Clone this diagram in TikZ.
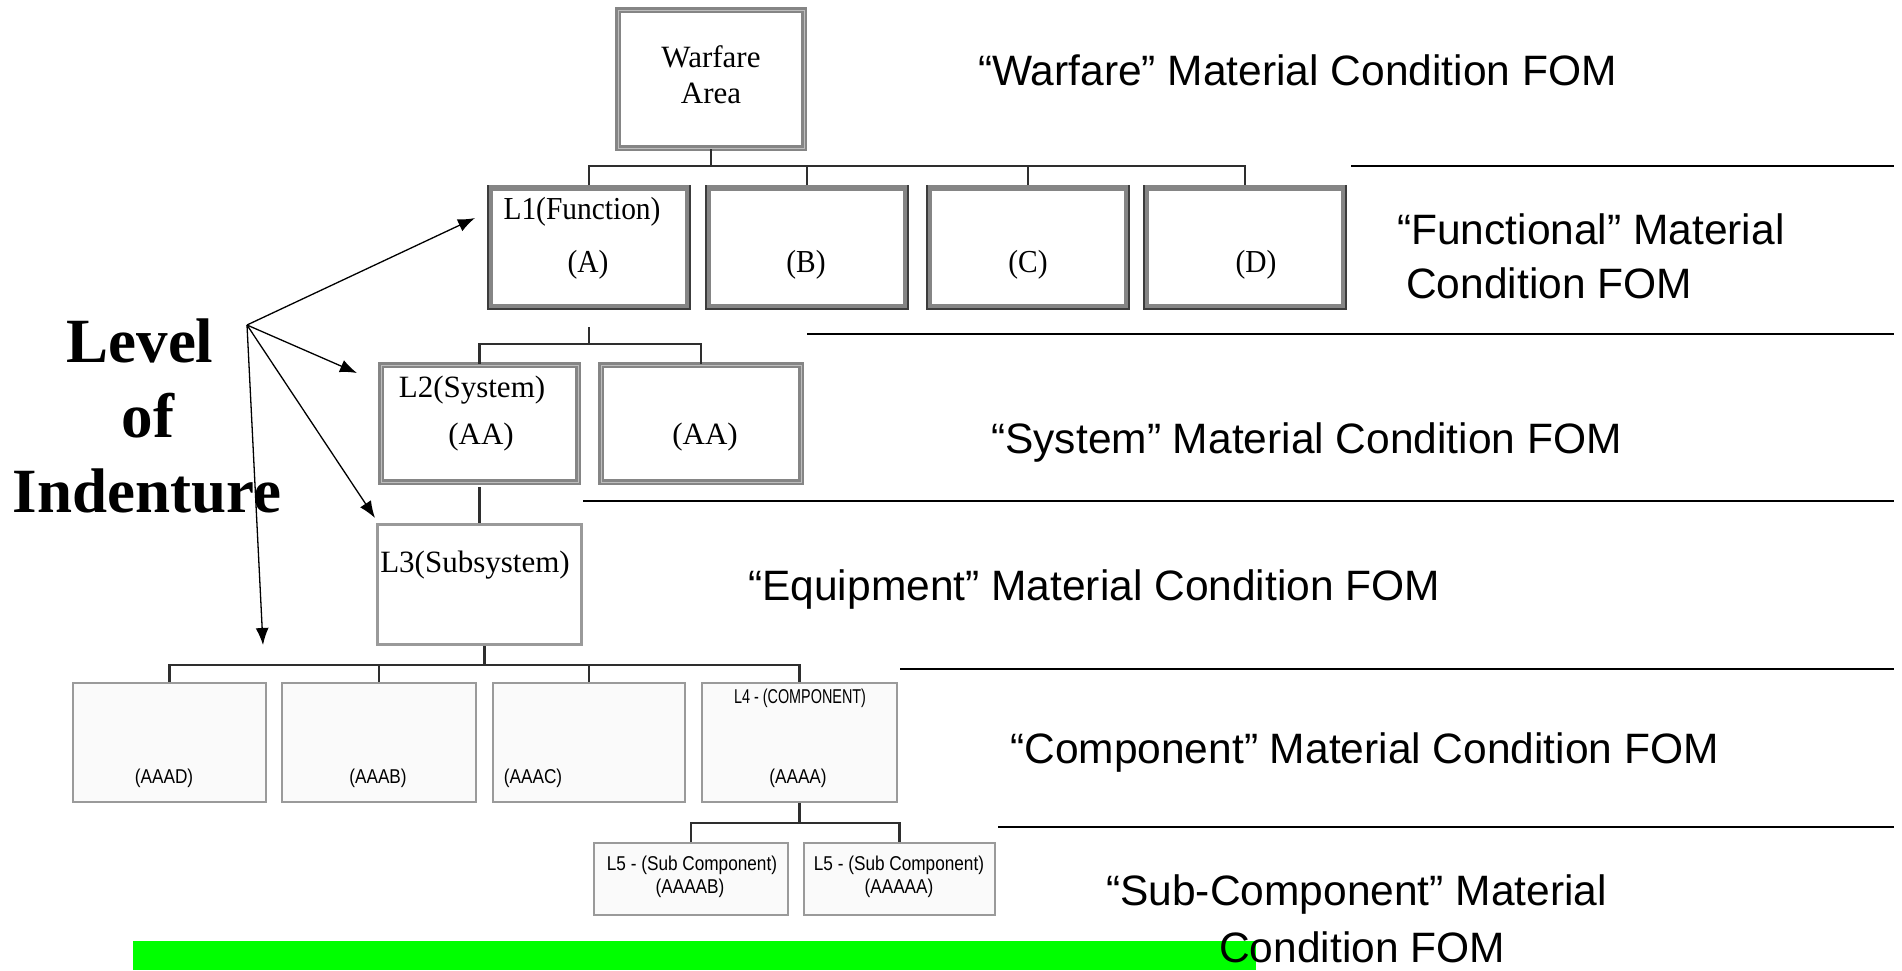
\documentclass[tikz,border=0pt]{standalone}
\usepackage{fontspec}
\setmainfont{Liberation Serif}
\newfontfamily\arialf{Liberation Sans}
\newfontfamily\smallsans[FakeStretch=0.86]{Liberation Sans}
\newfontfamily\smallsanscond[FakeStretch=0.72]{Liberation Sans}
\newfontfamily\serifcond[FakeStretch=0.92]{Liberation Serif}
\usetikzlibrary{arrows.meta}
\definecolor{framegray}{HTML}{858585}
\definecolor{framelight}{HTML}{BEBEBE}
\definecolor{framedark}{HTML}{3C3C3C}
\definecolor{thingray}{HTML}{9A9A9A}
\definecolor{linkgray}{HTML}{2E2E2E}
\definecolor{greenbar}{HTML}{00FF00}
\begin{document}
\begin{tikzpicture}[x=1pt,y=-1pt,
  basebox/.style={rectangle, inner sep=0pt, fill=white},
  boxW/.style={basebox, draw=framegray, double=framelight, double distance=0.9pt, line width=2.55pt},
  boxA/.style={basebox, draw=framegray, line width=6pt},
  boxB/.style={boxW},
  boxC/.style={basebox, draw=thingray, line width=3.5pt},
  boxE/.style={basebox, draw=thingray, line width=2pt, fill=white!98!black},
  txt/.style={inner sep=0pt},
  tnr/.style={txt, font=\fontsize{31}{36}\selectfont},
  tnrL1/.style={txt, font=\serifcond\fontsize{32}{36}\selectfont},
  sml/.style={txt, font=\smallsans\fontsize{20}{22}\selectfont},
  smlc/.style={txt, font=\smallsanscond\fontsize{20}{22}\selectfont},
  fom/.style={txt, anchor=base west, font=\arialf\fontsize{42.5}{48}\selectfont},
  bigword/.style={txt, anchor=base, font=\bfseries\fontsize{63}{75}\selectfont},
  link/.style={draw=linkgray, line width=2.4pt},
  sepline/.style={draw=black, line width=2.5pt},
  pointer/.style={draw=black, line width=1.3pt, -{Latex[length=17pt,width=13pt]}}
]
\fill[white] (0,0) rectangle (1902,970);
\useasboundingbox (0,0) rectangle (1902,970);

% ---------- Warfare area ----------
\node[boxW, minimum width=186pt, minimum height=138pt] (W) at (711,79) {};
\node[tnr, align=center] (Wt) at (711,75) {Warfare\\Area};

% ---------- L1 ----------
\foreach \n/\cx in {A/589,B/807,C/1028,D/1245}
  \node[boxA, minimum width=198pt, minimum height=119pt] (\n) at (\cx,247.5) {};
\foreach \n in {A,B,C,D}
  \draw[framedark, line width=2pt] ([xshift=1pt]\n.north west) -- ([xshift=1pt,yshift=1pt]\n.south west)
     -- ([xshift=-1pt,yshift=1pt]\n.south east) -- ([xshift=-1pt]\n.north east);
\node[tnrL1] (At1) at (582,212) {L1(Function)};
\node[tnrL1] (At2) at (588,265) {(A)};
\node[tnrL1] (Bt) at (806,265) {(B)};
\node[tnrL1] (Ct) at (1028,265) {(C)};
\node[tnrL1] (Dt) at (1256,265) {(D)};

\coordinate (bus1) at (0,166);
\draw[link] (W.south) -- (W.south |- bus1);
\draw[link] (A.north) -- (A.north |- bus1) -- (D.north |- bus1) -- (D.north);
\draw[link] (B.north) -- (B.north |- bus1);
\draw[link] (C.north) -- (C.north |- bus1);

% ---------- L2 ----------
\node[boxB, minimum width=197pt, minimum height=117pt] (S1) at (479.5,423.5) {};
\node[boxB, minimum width=200pt, minimum height=117pt] (S2) at (701,423.5) {};
\node[tnr] (S1t1) at (472,390) {L2(System)};
\node[tnr] (S1t2) at (481,437) {(AA)};
\node[tnr] (S2t) at (705,437) {(AA)};
\coordinate (bus2) at (0,344);
\draw[link, shorten <=17pt] (A.south) -- (A.south |- bus2);
\draw[link] (S1.north) -- (S1.north |- bus2) -- (S2.north |- bus2) -- (S2.north);

% ---------- L3 ----------
\node[boxC, minimum width=204pt, minimum height=120pt] (T) at (479.5,584.5) {};
\node[tnr] (Tt) at (475,565) {L3(Subsystem)};
\draw[link, shorten <=4pt] (S1.south) -- (T.north);

% ---------- L4 ----------
\foreach \n/\cx/\w in {P/169.5/193, Q/379/194, R/589/192, U/799.5/195}
  \node[boxE, minimum width=\w pt, minimum height=119pt] (\n) at (\cx,742.5) {};
\node[sml] (Pt) at (164,778) {(AAAD)};
\node[sml] (Qt) at (378,778) {(AAAB)};
\node[sml] (Rt) at (533,778) {(AAAC)};
\node[sml] (Ut2) at (798,778) {(AAAA)};
\node[smlc] (Ut1) at (800,698) {L4 - (COMPONENT)};
\coordinate (Tb) at ([xshift=5pt]T.south);
\coordinate (bus4) at (0,665);
\draw[link] (Tb) -- (Tb |- bus4);
\draw[link] (P.north) -- (P.north |- bus4) -- (U.north |- bus4) -- (U.north);
\draw[link] (Q.north) -- (Q.north |- bus4);
\draw[link] (R.north) -- (R.north |- bus4);

% ---------- L5 ----------
\node[boxE, minimum width=194pt, minimum height=72pt] (V1) at (691,879) {};
\node[boxE, minimum width=191pt, minimum height=72pt] (V2) at (899.5,879) {};
\node[sml] (V1t1) at (692,865) {L5 - (Sub Component)};
\node[sml] (V1t2) at (690,888) {(AAAAB)};
\node[sml] (V2t1) at (899,865) {L5 - (Sub Component)};
\node[sml] (V2t2) at (899,888) {(AAAAA)};
\coordinate (bus5) at (0,823);
\draw[link] (U.south) -- (U.south |- bus5);
\draw[link] (V1.north) -- (V1.north |- bus5) -- (V2.north |- bus5) -- (V2.north);

% ---------- separators ----------
\draw[sepline] (1351,166) -- (1894,166);
\draw[sepline] (807,334) -- (1894,334);
\draw[sepline] (583,501) -- (1894,501);
\draw[sepline] (900,669) -- (1894,669);
\draw[sepline] (998,827) -- (1894,827);

% ---------- FOM labels ----------
\node[fom] (f1) at (978,85) {“Warfare” Material Condition FOM};
\node[fom] (f2a) at (1397,244) {“Functional” Material};
\node[fom] (f2b) at (1406,298) {Condition FOM};
\node[fom] (f3) at (991,453) {“System” Material Condition FOM};
\node[fom] (f4) at (748,600) {“Equipment” Material Condition FOM};
\node[fom] (f5) at (1010,763) {“Component” Material Condition FOM};
\node[fom] (f6a) at (1106,905) {“Sub-Component” Material};

% ---------- green bar ----------
\fill[greenbar] (133,941) rectangle (1256,970);
\node[fom] (f6b) at (1219,962) {Condition FOM};

% ---------- Level of Indenture ----------
\node[bigword] (lv1) at (140,362) {Level};
\node[bigword] (lv2) at (148,437) {of};
\node[bigword] (lv3) at (147,512) {Indenture};
\coordinate (O) at (247,325);
\coordinate (p1) at (475,218);
\coordinate (p2) at (357,373);
\coordinate (p3) at (375,518);
\coordinate (p4) at (263,645);
\draw[pointer] (O) -- (p1);
\draw[pointer] (O) -- (p2);
\draw[pointer] (O) -- (p3);
\draw[pointer] (O) -- (p4);
\end{tikzpicture}
\end{document}
